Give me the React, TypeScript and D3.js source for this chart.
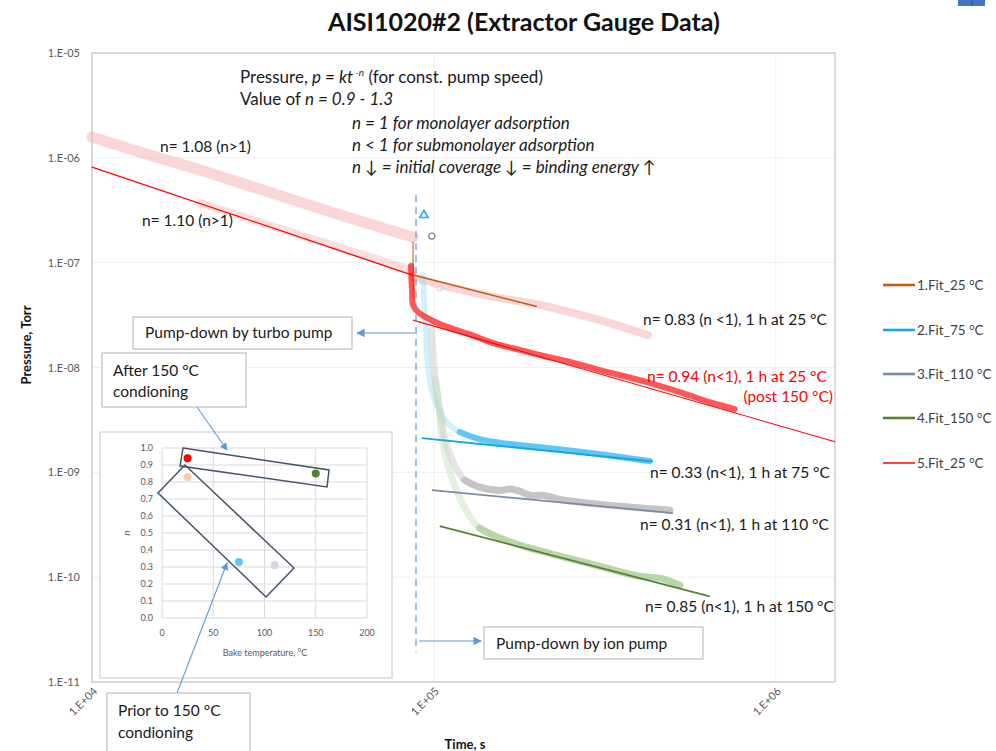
import React from 'react';
import * as d3 from 'd3';

const W = 996;
const H = 751;
const FONT = "Lato, 'Open Sans', sans-serif";

const TITLE = 'AISI1020#2 (Extractor Gauge Data)';
const Y_TICKS = [1e-5, 1e-6, 1e-7, 1e-8, 1e-9, 1e-10, 1e-11];
const Y_TICK_LABELS = ['1.E-05', '1.E-06', '1.E-07', '1.E-08', '1.E-09', '1.E-10', '1.E-11'];
const X_TICKS = [1e4, 1e5, 1e6];
const X_TICK_LABELS = ['1.E+04', '1.E+05', '1.E+06'];
const X_MAX = 1.49e6;

// Run at 25 °C before conditioning (turbo pump stage, then ion pump stage)
const run25PreTime = [1.0e4, 1.48e4, 2.07e4, 2.9e4, 4.06e4, 5.68e4, 7.96e4, 8.69e4];
const run25PrePressure = [1.58e-6, 1.06e-6, 7.66e-7, 5.38e-7, 3.78e-7, 2.67e-7, 1.91e-7, 1.75e-7];
const run25DropTime = [8.69e4, 8.7e4];
const run25DropPressure = [1.57e-7, 4.7e-8];
const run25PostTime = [8.69e4, 9.73e4, 1.11e5, 1.56e5, 1.91e5, 2.18e5, 3.06e5, 4.22e5];
const run25PostPressure = [7.29e-8, 6.54e-8, 5.85e-8, 4.59e-8, 4.12e-8, 3.77e-8, 2.83e-8, 2.04e-8];

// Run at 25 °C after 150 °C conditioning
const runPostPreTime = [2.07e4, 4.06e4, 6.95e4, 8.69e4];
const runPostPrePressure = [3.71e-7, 1.83e-7, 1.06e-7, 8.32e-8];
const runPostTime = [8.57e4, 8.63e4, 8.69e4, 8.98e4, 1.04e5, 1.27e5, 1.46e5, 1.78e5, 2.11e5, 2.45e5, 3.06e5, 4.2e5, 5.24e5, 6.41e5, 7.59e5];
const runPostPressure = [9.29e-8, 5.48e-8, 3.94e-8, 3.38e-8, 2.6e-8, 2.08e-8, 1.75e-8, 1.47e-8, 1.28e-8, 1.15e-8, 9.44e-9, 7.26e-9, 5.82e-9, 4.67e-9, 4.01e-9];

// Run at 75 °C
const run75Time = [9.29e4, 9.35e4, 9.48e4, 9.6e4, 9.86e4, 1.03e5, 1.09e5, 1.19e5, 1.36e5, 1.67e5, 2.18e5, 3.06e5, 4.28e5];
const run75Pressure = [7.62e-8, 4.4e-8, 2.27e-8, 1.05e-8, 6.08e-9, 4.1e-9, 3.01e-9, 2.42e-9, 2.07e-9, 1.86e-9, 1.7e-9, 1.49e-9, 1.28e-9];

// Run at 110 °C
const run110Time = [9.86e4, 9.9e4, 1.01e5, 1.04e5, 1.08e5, 1.15e5, 1.23e5, 1.36e5, 1.56e5, 1.67e5, 1.78e5, 1.91e5, 2.11e5, 2.34e5, 2.67e5, 3.5e5, 4.9e5];
const run110Pressure = [2.27e-8, 1.64e-8, 7.59e-9, 3.93e-9, 2.03e-9, 1.17e-9, 8.43e-10, 7.23e-10, 6.72e-10, 6.95e-10, 6.62e-10, 6.05e-10, 6.02e-10, 5.5e-10, 5.2e-10, 4.76e-10, 4.36e-10];

// Run at 150 °C
const run150Time = [1.01e5, 1.03e5, 1.06e5, 1.11e5, 1.18e5, 1.25e5, 1.36e5, 1.56e5, 1.91e5, 2.34e5, 3.06e5, 4.0e5, 4.58e5, 5.24e5];
const run150Pressure = [7.59e-9, 4.89e-9, 2.03e-9, 1.05e-9, 6.06e-10, 4.17e-10, 2.94e-10, 2.36e-10, 1.89e-10, 1.59e-10, 1.27e-10, 1.02e-10, 9.78e-11, 8.39e-11];

// Isolated early readings
const outlierTime = [9.35e4, 9.86e4, 1.04e5];
const outlierPressure = [2.84e-7, 1.79e-7, 5.73e-8];

// Power-law fits p = k t^-n
const fitNames = ['1.Fit_25 °C', '2.Fit_75 °C', '3.Fit_110 °C', '4.Fit_150 °C', '5.Fit_25 °C'];
const fitN = [0.83, 0.33, 0.31, 0.85, 0.94];
const fitStartTime = [8.69e4, 9.22e4, 9.87e4, 1.04e5, 8.69e4];
const fitStartPressure = [7.62e-8, 2.12e-9, 6.76e-10, 3.07e-10, 2.83e-8];
const fitEndTime = [2.0e5, 4.37e5, 5.0e5, 6.41e5, X_MAX];
const fitColors = ['#C55A11', '#1AA3E8', '#7B8BA6', '#548235', '#FF0000'];
const fitWidths = [1.6, 2, 1.8, 1.8, 1.1];

// Early-stage fit for the conditioned run
const earlyFitN = 1.1;
const earlyFitStart = [1e4, 8.17e-7];
const earlyFitEndTime = 8.69e4;

// Inset: fitted exponent vs bake temperature
const bakeTemp = [25, 25, 75, 110, 150];
const bakeN = [0.94, 0.83, 0.33, 0.31, 0.85];
const bakeColors = ['#FF0000', '#F8CBAD', '#5BC8F5', '#D6D6E6', '#548235'];
const insetYTicks = [0, 0.1, 0.2, 0.3, 0.4, 0.5, 0.6, 0.7, 0.8, 0.9, 1.0];
const insetXTicks = [0, 50, 100, 150, 200];
const afterGroup = [[20.5, 1.0], [163, 0.871], [161, 0.771], [17.6, 0.894]];
const priorGroup = [[22.4, 0.9], [-3.9, 0.735], [101.5, 0.124], [128.8, 0.294]];

type P = [number, number];
const zip = (a: number[], b: number[]): P[] => a.map((v, i) => [v, b[i]] as P);

export default function App() {
  const x = d3.scaleLog().domain([1e4, X_MAX]).range([92, 835]);
  const y = d3.scaleLog().domain([1e-11, 1e-5]).range([682, 53]);
  const smooth = d3.line<P>().x(d => x(d[0])).y(d => y(d[1])).curve(d3.curveCatmullRom.alpha(0.5));
  const straight = d3.line<P>().x(d => x(d[0])).y(d => y(d[1]));

  const ix = d3.scaleLinear().domain([0, 200]).range([162, 367]);
  const iy = d3.scaleLinear().domain([0, 1]).range([618, 448]);
  const poly = (pts: number[][]) => pts.map(p => `${ix(p[0])},${iy(p[1])}`).join(' ');

  const fitLine = (i: number): P[] => {
    const k = fitStartPressure[i] * Math.pow(fitStartTime[i], fitN[i]);
    return [fitStartTime[i], fitEndTime[i]].map(t => [t, k * Math.pow(t, -fitN[i])] as P);
  };
  const earlyK = earlyFitStart[1] * Math.pow(earlyFitStart[0], earlyFitN);
  const earlyFit: P[] = [earlyFitStart[0], earlyFitEndTime].map(t => [t, earlyK * Math.pow(t, -earlyFitN)] as P);

  const tail = (pts: P[], from: number) => pts.filter(p => p[0] >= from);

  const run75 = zip(run75Time, run75Pressure);
  const run110 = zip(run110Time, run110Pressure);
  const run150 = zip(run150Time, run150Pressure);

  const legendY = [285, 330, 374, 418, 463];

  const band = (d: string | null, color: string, width: number, opacity: number) => (
    <path d={d ?? ''} fill="none" stroke={color} strokeWidth={width} strokeOpacity={opacity}
      strokeLinecap="round" strokeLinejoin="round" />
  );

  const textStyle = { fontFamily: FONT, fontSize: 15.5, fill: '#1a1a1a' } as const;
  const noteSize = 17;

  return (
    <svg width={W} height={H} style={{ position: 'absolute', left: 0, top: 0, background: '#fff' }}
      fontFamily={FONT}>
      <defs>
        <marker id="arrow" viewBox="0 0 10 10" refX="9" refY="5" markerWidth="7" markerHeight="7" orient="auto-start-reverse">
          <path d="M0,0 L10,5 L0,10 z" fill="#5B9BD5" />
        </marker>
      </defs>
      <rect x={0} y={0} width={W} height={H} fill="#fff" />
      <rect x={958} y={-2} width={27} height={8} fill="#4472C4" />
      <line x1={972} x2={972} y1={0} y2={6} stroke="#2F528F" strokeWidth={1} />

      {/* title */}
      <text x={524} y={31} textAnchor="middle" fontSize={25} fontWeight={700} fill="#111">{TITLE}</text>

      {/* grid */}
      {Y_TICKS.map((t, i) => (
        <line key={'gy' + i} x1={92} x2={835} y1={y(t)} y2={y(t)} stroke="#EFEFEF" strokeWidth={1} />
      ))}
      {X_TICKS.map((t, i) => (
        <line key={'gx' + i} x1={x(t)} x2={x(t)} y1={53} y2={682} stroke="#EFEFEF" strokeWidth={1} />
      ))}
      <rect x={92} y={53} width={743} height={629} fill="none" stroke="#CFCFCF" strokeWidth={1.5} />

      {/* y tick labels */}
      {Y_TICKS.map((t, i) => (
        <text key={'yl' + i} x={80} y={y(t) + 4} textAnchor="end" fontSize={11} fill="#595959">{Y_TICK_LABELS[i]}</text>
      ))}
      {/* x tick labels */}
      {X_TICKS.map((t, i) => (
        <text key={'xl' + i} transform={`translate(${x(t) + 6},${692}) rotate(-45)`} textAnchor="end"
          fontSize={11} fill="#595959">{X_TICK_LABELS[i]}</text>
      ))}
      <text transform="translate(31,345) rotate(-90)" textAnchor="middle" fontSize={13} fontWeight={700} fill="#111">Pressure, Torr</text>
      <text x={465} y={749} textAnchor="middle" fontSize={13} fontWeight={700} fill="#111">Time, s</text>

      {/* data bands */}
      {band(smooth(zip(run25PreTime, run25PrePressure)), '#F4B0B0', 11, 0.5)}
      {band(smooth(zip(runPostPreTime, runPostPrePressure)), '#F4B0B0', 8, 0.4)}
      {band(smooth(zip(run25PostTime, run25PostPressure)), '#F4B0B0', 8, 0.5)}
      {band(straight(zip(run25DropTime, run25DropPressure)), '#C55A11', 1.3, 0.8)}

      {band(smooth(run75), '#7DD3F7', 6, 0.35)}
      {band(smooth(tail(run75, 1.19e5)), '#1FB2F0', 6, 0.65)}
      {band(smooth(run110), '#BDBDBD', 7, 0.4)}
      {band(smooth(tail(run110, 1.2e5)), '#A6A6A6', 7, 0.5)}
      {band(smooth(run150), '#C5DDB8', 7, 0.45)}
      {band(smooth(tail(run150, 1.3e5)), '#8DBB78', 7, 0.5)}

      {band(smooth(zip(runPostTime, runPostPressure)), '#FF1010', 6, 0.7)}

      {/* outliers */}
      <path d={d3.symbol(d3.symbolTriangle, 30)() ?? ''} transform={`translate(${x(outlierTime[0])},${y(outlierPressure[0])})`}
        fill="none" stroke="#1FB2F0" strokeWidth={1.6} />
      <circle cx={x(outlierTime[1])} cy={y(outlierPressure[1])} r={3} fill="none" stroke="#8C8C8C" strokeWidth={1.4} />
      <circle cx={x(outlierTime[2])} cy={y(outlierPressure[2])} r={3} fill="none" stroke="#D9D9D9" strokeWidth={1.2} />

      {/* fits */}
      <path d={straight(earlyFit) ?? ''} fill="none" stroke="#FF0000" strokeWidth={1.3} />
      {fitN.map((_, i) => (
        <path key={'fit' + i} d={straight(fitLine(i)) ?? ''} fill="none" stroke={fitColors[i]} strokeWidth={fitWidths[i]} />
      ))}

      {/* pump-down marker */}
      <line x1={416} x2={416} y1={195} y2={652} stroke="#5B9BD5" strokeWidth={1.2} strokeDasharray="7,5" />
      <line x1={415} x2={357} y1={333} y2={333} stroke="#5B9BD5" strokeWidth={1.2} markerEnd="url(#arrow)" />
      <line x1={419} x2={481} y1={641} y2={641} stroke="#5B9BD5" strokeWidth={1.2} markerEnd="url(#arrow)" />

      {/* equation notes */}
      <text x={240} y={83} {...textStyle} fontSize={noteSize}>
        Pressure, <tspan fontStyle="italic">p = kt</tspan>
        <tspan fontStyle="italic" fontSize={10} dy={-7}> -n</tspan>
        <tspan dy={7}>  (for const. pump speed)</tspan>
      </text>
      <text x={240} y={105} {...textStyle} fontSize={noteSize}>
        Value of <tspan fontStyle="italic">n = 0.9 - 1.3</tspan>
      </text>
      <text x={352} y={129} {...textStyle} fontSize={noteSize} fontStyle="italic">n = 1 for monolayer adsorption</text>
      <text x={352} y={151} {...textStyle} fontSize={noteSize} fontStyle="italic">n &lt; 1 for submonolayer adsorption</text>
      <text x={352} y={173} {...textStyle} fontSize={noteSize} fontStyle="italic">
        n <tspan fontStyle="normal">↓</tspan>  = initial coverage <tspan fontStyle="normal">↓</tspan> = binding energy <tspan fontStyle="normal">↑</tspan>
      </text>

      {/* slope labels */}
      <text x={160} y={152} {...textStyle}>n= 1.08 (n&gt;1)</text>
      <text x={142} y={226} {...textStyle}>n= 1.10 (n&gt;1)</text>
      <text x={643} y={325} {...textStyle}>n= 0.83 (n &lt;1), 1 h at 25 °C</text>
      <text x={647} y={382} {...textStyle} fill="#FF0000">n= 0.94 (n&lt;1), 1 h at 25 °C</text>
      <text x={833} y={402} {...textStyle} fill="#FF0000" textAnchor="end">(post 150 °C)</text>
      <text x={650} y={478} {...textStyle}>n= 0.33 (n&lt;1), 1 h at 75 °C</text>
      <text x={640} y={530} {...textStyle}>n= 0.31 (n&lt;1), 1 h at 110 °C</text>
      <text x={645} y={612} {...textStyle}>n= 0.85 (n&lt;1), 1 h at 150 °C</text>

      {/* callout boxes */}
      <rect x={133} y={317} width={219} height={32} fill="#fff" stroke="#BFBFBF" strokeWidth={1.2} />
      <text x={145} y={338} {...textStyle}>Pump-down by turbo pump</text>
      <rect x={484} y={627} width={219} height={32} fill="#fff" stroke="#BFBFBF" strokeWidth={1.2} />
      <text x={496} y={649} {...textStyle}>Pump-down by ion pump</text>

      {/* inset chart */}
      <rect x={100} y={432} width={292} height={246} fill="#fff" stroke="#D0D0D0" strokeWidth={1.2} />
      {insetYTicks.map((t, i) => (
        <g key={'iy' + i}>
          <line x1={ix(0)} x2={ix(200)} y1={iy(t)} y2={iy(t)} stroke="#D9D9D9" strokeWidth={1} />
          <text x={153} y={iy(t) + 3} textAnchor="end" fontSize={9} fill="#595959">{t.toFixed(1)}</text>
        </g>
      ))}
      {insetXTicks.map((t, i) => (
        <g key={'ix' + i}>
          <line x1={ix(t)} x2={ix(t)} y1={iy(0)} y2={iy(1)} stroke="#D9D9D9" strokeWidth={1} />
          <text x={ix(t)} y={636} textAnchor="middle" fontSize={9} fill="#595959">{t}</text>
        </g>
      ))}
      <text transform="translate(130,533) rotate(-90)" textAnchor="middle" fontSize={10} fontStyle="italic" fill="#595959">n</text>
      <text x={265} y={656} textAnchor="middle" fontSize={9} fill="#595959">Bake temperature, °C</text>
      {bakeTemp.map((t, i) => (
        <circle key={'b' + i} cx={ix(t)} cy={iy(bakeN[i])} r={4} fill={bakeColors[i]} />
      ))}
      <polygon points={poly(afterGroup)} fill="none" stroke="#44546A" strokeWidth={1.5} />
      <polygon points={poly(priorGroup)} fill="none" stroke="#44546A" strokeWidth={1.5} />

      <rect x={102} y={353} width={144} height={54} fill="#fff" stroke="#BFBFBF" strokeWidth={1.2} />
      <text x={113} y={376} {...textStyle}>After 150 °C</text>
      <text x={113} y={397} {...textStyle}>condioning</text>
      <line x1={197} y1={407} x2={227} y2={450} stroke="#5B9BD5" strokeWidth={1.1} markerEnd="url(#arrow)" />

      <rect x={107} y={693} width={143} height={62} fill="#fff" stroke="#BFBFBF" strokeWidth={1.2} />
      <text x={118} y={716} {...textStyle}>Prior to 150 °C</text>
      <text x={118} y={738} {...textStyle}>condioning</text>
      <line x1={177} y1={693} x2={227} y2={563} stroke="#5B9BD5" strokeWidth={1.1} markerEnd="url(#arrow)" />

      {/* legend */}
      {fitNames.map((name, i) => (
        <g key={'lg' + i}>
          <line x1={883} x2={915} y1={legendY[i]} y2={legendY[i]} stroke={fitColors[i]} strokeWidth={i === 4 ? 1.5 : 2.6} />
          <text x={917} y={legendY[i] + 5} fontSize={13.5} fill="#404040">{name}</text>
        </g>
      ))}
    </svg>
  );
}
